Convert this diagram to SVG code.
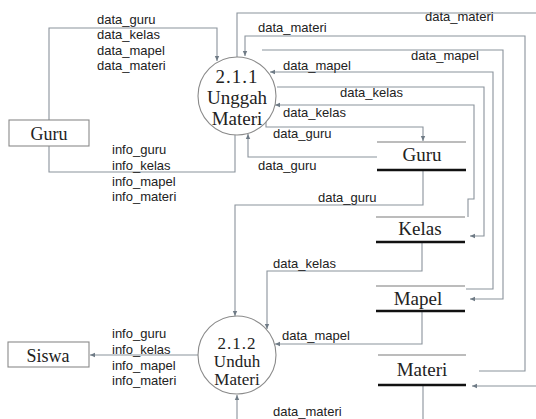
<svg xmlns="http://www.w3.org/2000/svg" width="536" height="419" viewBox="0 0 536 419">
<style>
.bg{fill:#fff}
.flow{fill:none;stroke:#8a939c;stroke-width:1.1}
.arr{marker-end:url(#ah)}
.proc{fill:#fff;stroke:#8a8a8a;stroke-width:1.1}
.ent{fill:#fff;stroke:#8a8a8a;stroke-width:1.1}
.stTop{stroke:#7a7a7a;stroke-width:1.2}
.stBot{stroke:#111;stroke-width:2.6}
.lbl{font-family:"Liberation Sans",Arial,sans-serif;font-size:13px;fill:#222}
.ser{font-family:"Liberation Serif","Times New Roman",serif;fill:#222;text-anchor:middle}
.pt{font-size:19px}
.pt2{font-size:17px}
.et{font-size:18px}
.dt{font-size:19px}
</style>
<defs>
<marker id="ah" markerWidth="6" markerHeight="6" refX="5" refY="3" orient="auto" markerUnits="userSpaceOnUse">
<path d="M0,0.8 L5,3 L0,5.2 Z" fill="#6f7b86"/>
</marker>
</defs>
<rect class="bg" x="0" y="0" width="536" height="419"/>
<g id="connectors">
<path class="flow arr" d="M49,120 V28 H217 V61"/>
<path class="flow" d="M235,135 V172 H49 V146"/>
<path class="flow arr" d="M237,57 V13 H545 V386 H472"/>
<path class="flow arr" d="M479,371 H525 V36 H245 V56"/>
<path class="flow arr" d="M262,50 H503 V299 H470"/>
<path class="flow arr" d="M466,289 H493 V72 H270"/>
<path class="flow arr" d="M277,87 H484 V236 H470"/>
<path class="flow arr" d="M468,217 V199 H474 V105 H275"/>
<path class="flow arr" d="M266,122 V127 H423 V141"/>
<path class="flow arr" d="M377,157 H248 V134"/>
<path class="flow arr" d="M423,170 V205 H235 V316"/>
<path class="flow arr" d="M422,242 V271 H267 V329"/>
<path class="flow arr" d="M422,311 V344 H275"/>
<path class="flow arr" d="M423,384 V425 H237 V395"/>
<path class="flow arr" d="M198,355 H90"/>
<g class="lbl">
<text x="97" y="24">data_guru</text>
<text x="97" y="39">data_kelas</text>
<text x="97" y="55">data_mapel</text>
<text x="97" y="70">data_materi</text>
<text x="112" y="154">info_guru</text>
<text x="112" y="170">info_kelas</text>
<text x="112" y="186">info_mapel</text>
<text x="112" y="201">info_materi</text>
<text x="425" y="21">data_materi</text>
<text x="258" y="32">data_materi</text>
<text x="411" y="60">data_mapel</text>
<text x="283" y="70">data_mapel</text>
<text x="340" y="97">data_kelas</text>
<text x="283" y="117">data_kelas</text>
<text x="273" y="138">data_guru</text>
<text x="258" y="170">data_guru</text>
<text x="318" y="202">data_guru</text>
<text x="273" y="268">data_kelas</text>
<text x="282" y="340">data_mapel</text>
<text x="273" y="416">data_materi</text>
<text x="112" y="338">info_guru</text>
<text x="112" y="354">info_kelas</text>
<text x="112" y="370">info_mapel</text>
<text x="112" y="385">info_materi</text>
</g>
</g>
<g id="p211">
<circle class="proc" cx="237" cy="96" r="39"/>
<text class="ser pt" x="237" y="83" letter-spacing="1">2.1.1</text>
<text class="ser pt" x="237" y="104">Unggah</text>
<text class="ser pt" x="237" y="125">Materi</text>
</g>
<g id="p212">
<circle class="proc" cx="237" cy="355" r="39"/>
<text class="ser pt2" x="237" y="349" letter-spacing="1">2.1.2</text>
<text class="ser pt2" x="237" y="367">Unduh</text>
<text class="ser pt2" x="237" y="385">Materi</text>
</g>
<g id="eGuru">
<rect class="ent" x="9" y="120" width="80" height="26"/>
<text class="ser et" x="49" y="140">Guru</text>
</g>
<g id="eSiswa">
<rect class="ent" x="8" y="342" width="81" height="25"/>
<text class="ser et" x="48" y="362">Siswa</text>
</g>
<g id="dGuru">
<line class="stTop" x1="377" y1="142" x2="466" y2="142"/>
<line class="stBot" x1="377" y1="170" x2="466" y2="170"/>
<text class="ser dt" x="422" y="161">Guru</text>
</g>
<g id="dKelas">
<line class="stTop" x1="376" y1="217" x2="465" y2="217"/>
<line class="stBot" x1="376" y1="242" x2="465" y2="242"/>
<text class="ser dt" x="420" y="235">Kelas</text>
</g>
<g id="dMapel">
<line class="stTop" x1="376" y1="286" x2="465" y2="286"/>
<line class="stBot" x1="376" y1="311" x2="465" y2="311"/>
<text class="ser dt" x="418" y="305">Mapel</text>
</g>
<g id="dMateri">
<line class="stTop" x1="378" y1="355" x2="466" y2="355"/>
<line class="stBot" x1="378" y1="385" x2="466" y2="385"/>
<text class="ser dt" x="422" y="376">Materi</text>
</g>
</svg>
